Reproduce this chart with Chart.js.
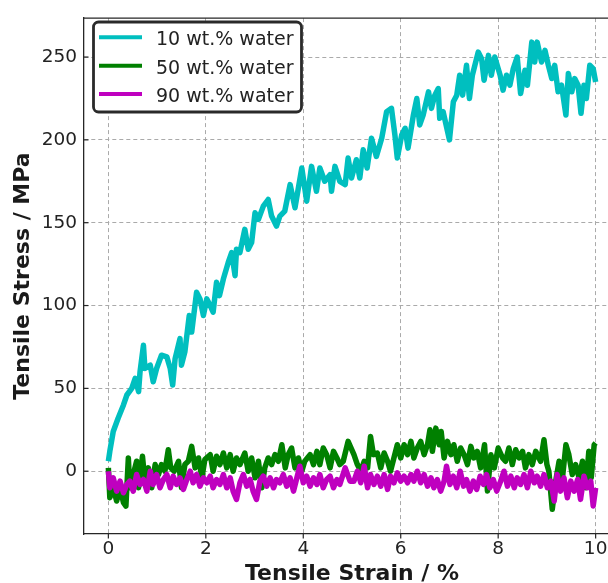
<!DOCTYPE html>
<html>
<head>
<meta charset="utf-8">
<script src="https://cdn.jsdelivr.net/npm/chart.js@4.4.0/dist/chart.umd.min.js"></script>
<style>
  html, body { margin: 0; padding: 0; background: #fff; overflow: hidden; }
  #wrap { width: 608px; height: 583px; overflow: hidden; position: relative; }
</style>
</head>
<body>
<div id="wrap"><canvas id="stressChart" width="624" height="590"></canvas></div>
<script>
// readings taken off the reference curves (strain %, stress MPa)
const strain10 = [0, 0.03, 0.1, 0.2, 0.31, 0.38, 0.48, 0.55, 0.62, 0.65, 0.72, 0.75, 0.86, 0.92, 0.99,
  1.09, 1.2, 1.27, 1.32, 1.37, 1.47, 1.5, 1.57, 1.66, 1.71, 1.81, 1.88, 1.95, 2.02, 2.09, 2.15, 2.22,
  2.28, 2.36, 2.46, 2.53, 2.6, 2.63, 2.7, 2.8, 2.87, 2.94, 3.01, 3.08, 3.18, 3.28, 3.35, 3.45, 3.52,
  3.62, 3.73, 3.83, 3.97, 4.07, 4.17, 4.27, 4.34, 4.44, 4.55, 4.58, 4.65, 4.75, 4.86, 4.92, 4.99, 5.09,
  5.16, 5.23, 5.31, 5.4, 5.5, 5.61, 5.71, 5.81, 5.88, 5.93, 6.02, 6.09, 6.15, 6.26, 6.33, 6.39, 6.46,
  6.57, 6.63, 6.7, 6.77, 6.8, 6.87, 7.0, 7.08, 7.15, 7.21, 7.27, 7.35, 7.41, 7.47, 7.59, 7.66, 7.71,
  7.8, 7.86, 7.93, 8.04, 8.1, 8.17, 8.24, 8.31, 8.39, 8.46, 8.55, 8.6, 8.69, 8.75, 8.8, 8.89, 8.96,
  9.03, 9.1, 9.16, 9.23, 9.3, 9.39, 9.44, 9.51, 9.57, 9.64, 9.7, 9.76, 9.81, 9.88, 9.95, 10.0];
const stress10 = [6, 12, 24, 32, 40, 46, 50, 56, 48, 60, 76, 62, 64, 54, 62,
  70, 69, 62, 52, 68, 80, 64, 72, 94, 84, 108, 104, 94, 104, 100, 96, 114,
  106, 116, 126, 132, 118, 134, 132, 146, 134, 138, 156, 152, 160, 164, 154, 148, 154,
  157, 173, 159, 183, 163, 184, 169, 183, 175, 179, 169, 184, 175, 173, 189, 177, 188,
  177, 194, 183, 201, 190, 201, 217, 219, 203, 189, 203, 207, 195, 215, 225, 209, 215,
  229, 219, 227, 231, 213, 217, 200, 223, 227, 239, 227, 245, 225, 239, 253, 249, 236,
  251, 239, 250, 239, 230, 239, 233, 243, 250, 228, 242, 233, 259, 247, 259, 247, 254,
  245, 237, 245, 229, 233, 215, 240, 229, 237, 233, 216, 233, 225, 245, 243, 235];

const strain50 = [0, 0.03, 0.1, 0.17, 0.24, 0.31, 0.36, 0.41, 0.44, 0.51, 0.58, 0.62, 0.7, 0.75, 0.82,
  0.89, 0.96, 1.03, 1.09, 1.16, 1.23, 1.28, 1.35, 1.44, 1.5, 1.57, 1.64, 1.71, 1.78, 1.85, 1.92, 1.98,
  2.09, 2.15, 2.22, 2.29, 2.36, 2.43, 2.5, 2.56, 2.63, 2.7, 2.8, 2.87, 2.94, 3.01, 3.08, 3.15, 3.21,
  3.28, 3.35, 3.42, 3.49, 3.56, 3.63, 3.69, 3.76, 3.83, 3.9, 3.97, 4.03, 4.14, 4.21, 4.28, 4.34, 4.41,
  4.48, 4.55, 4.62, 4.69, 4.75, 4.82, 4.92, 5.04, 5.11, 5.18, 5.25, 5.32, 5.38, 5.44, 5.52, 5.59, 5.66,
  5.73, 5.79, 5.86, 5.93, 6.0, 6.07, 6.14, 6.21, 6.27, 6.34, 6.41, 6.48, 6.55, 6.6, 6.65, 6.72, 6.79,
  6.83, 6.89, 6.96, 7.03, 7.09, 7.16, 7.23, 7.3, 7.37, 7.44, 7.5, 7.57, 7.64, 7.72, 7.78, 7.85, 7.92,
  8.0, 8.09, 8.15, 8.22, 8.29, 8.36, 8.43, 8.5, 8.56, 8.63, 8.7, 8.77, 8.87, 8.94, 9.0, 9.04, 9.11,
  9.18, 9.25, 9.32, 9.39, 9.45, 9.52, 9.59, 9.66, 9.73, 9.8, 9.86, 9.91, 9.97, 10.0];
const stress50 = [2, -16, -10, -18, -10, -19, -21, 8, -10, -2, 6, -10, 9, -6, 2,
  -10, 4, -2, 4, 0, 13, 2, 0, 6, -10, 4, 6, 15, 2, 8, -4, 7,
  10, 0, 9, 4, 11, 2, 10, 0, 8, 4, 11, 0, 8, -4, 6, -10, 2,
  8, 4, 10, 6, 16, 2, 10, 14, 2, 8, 0, 6, 10, 4, 12, 4, 14,
  10, 2, 12, 8, 4, 6, 18, 10, 4, 0, 6, 2, 21, 10, 11, 2, 11,
  6, 0, 8, 16, 8, 16, 10, 18, 8, 14, 18, 10, 16, 25, 12, 26, 16,
  24, 8, 18, 10, 16, 6, 14, 10, 4, 15, 8, 12, 2, 16, -12, 10, 2,
  14, 8, 6, 14, 4, 13, 8, 12, 2, 10, 4, 12, 6, 19, 4, 0, -23,
  -6, 6, -4, 16, 10, -2, 4, -4, 6, -10, 12, -4, 16, 17];

const strain90 = [0, 0.03, 0.1, 0.17, 0.24, 0.31, 0.38, 0.44, 0.51, 0.58, 0.65, 0.72, 0.79, 0.86, 0.92,
  0.99, 1.06, 1.13, 1.2, 1.27, 1.33, 1.4, 1.47, 1.54, 1.61, 1.68, 1.74, 1.81, 1.88, 1.95, 2.02, 2.09,
  2.15, 2.22, 2.29, 2.36, 2.43, 2.5, 2.56, 2.63, 2.7, 2.77, 2.84, 2.91, 2.97, 3.04, 3.11, 3.18, 3.25,
  3.32, 3.39, 3.45, 3.52, 3.59, 3.66, 3.73, 3.8, 3.86, 3.93, 4.0, 4.07, 4.14, 4.21, 4.28, 4.34, 4.41,
  4.48, 4.55, 4.62, 4.69, 4.75, 4.86, 4.96, 5.04, 5.11, 5.18, 5.25, 5.32, 5.38, 5.45, 5.52, 5.59, 5.66,
  5.73, 5.79, 5.86, 5.93, 6.0, 6.07, 6.14, 6.21, 6.27, 6.34, 6.41, 6.48, 6.55, 6.62, 6.68, 6.75, 6.82,
  6.89, 6.94, 7.01, 7.08, 7.15, 7.22, 7.29, 7.35, 7.42, 7.49, 7.56, 7.63, 7.7, 7.76, 7.83, 7.9, 7.97,
  8.05, 8.12, 8.19, 8.26, 8.33, 8.39, 8.46, 8.53, 8.6, 8.67, 8.74, 8.8, 8.87, 8.94, 9.01, 9.08, 9.15,
  9.21, 9.28, 9.35, 9.42, 9.49, 9.56, 9.63, 9.69, 9.76, 9.83, 9.9, 9.95, 10.0];
const stress90 = [0, -10, -4, -12, -6, -13, -8, -6, -12, -2, -8, -5, -12, 0, -8,
  -2, -10, -5, -2, -10, -3, -8, -4, -11, -5, 0, -7, -2, -9, -4, -7, -3,
  -10, -5, -8, -2, -10, -4, -12, -17, -7, -2, -9, -5, -12, -17, -6, -3, -9,
  -4, -10, -5, -7, -2, -9, -4, -12, -5, 3, -7, -3, -9, -4, -8, -2, -10,
  -5, -3, -10, -5, -8, 2, -6, -6, 0, -7, 3, -10, -2, -8, -3, -9, -2,
  -11, -3, -7, -1, -6, -3, -7, -2, -6, 0, -7, -2, -9, -4, -10, -5, -12,
  -6, 3, -8, -3, -10, 0, -9, -5, -12, -6, -11, -3, -8, -2, -10, -5, -12,
  -6, 0, -9, -3, -10, -4, -8, -2, -10, 0, -7, -3, -9, -2, -10, -6, -18,
  -2, -12, -4, -16, -6, -12, -5, -17, -3, -10, -6, -21, -10];

const seriesLabels = ['10 wt.% water', '50 wt.% water', '90 wt.% water'];
const seriesColors = ['#00bfbf', '#008000', '#bf00bf'];
const xTicks = [0, 2, 4, 6, 8, 10];
const yTicks = [0, 50, 100, 150, 200, 250];

function toPoints(xs, ys) {
  return xs.map((x, i) => ({ x: x, y: ys[i] }));
}

const textColor = '#222';
const spineColor = '#262626';

// top spine, tick marks and the boxed legend, drawn over the plot
const framePlugin = {
  id: 'frame',
  afterDraw(chart) {
    const ctx = chart.ctx;
    const area = chart.chartArea;
    const xs = chart.scales.x;
    const ys = chart.scales.y;
    ctx.save();
    ctx.strokeStyle = spineColor;
    ctx.lineWidth = 1.3;
    ctx.beginPath();
    ctx.moveTo(area.left, area.top);
    ctx.lineTo(area.right, area.top);
    ctx.stroke();

    ctx.lineWidth = 1.2;
    ys.ticks.forEach(t => {
      const y = ys.getPixelForValue(t.value);
      ctx.beginPath();
      ctx.moveTo(area.left, y);
      ctx.lineTo(area.left + 4.5, y);
      ctx.stroke();
    });
    xs.ticks.forEach(t => {
      const x = xs.getPixelForValue(t.value);
      ctx.beginPath();
      ctx.moveTo(x, area.bottom);
      ctx.lineTo(x, area.bottom + 4.5);
      ctx.stroke();
    });

    // legend box
    const bx = 93.5, by = 22, bw = 208, bh = 90;
    ctx.beginPath();
    ctx.roundRect(bx, by, bw, bh, 5);
    ctx.fillStyle = '#fff';
    ctx.fill();
    ctx.lineWidth = 2.8;
    ctx.strokeStyle = '#2a2a2a';
    ctx.stroke();

    ctx.font = '19px "DejaVu Sans"';
    ctx.textBaseline = 'alphabetic';
    ctx.textAlign = 'left';
    chart.data.datasets.forEach((ds, i) => {
      const y = 37.3 + 28.4 * i;
      ctx.beginPath();
      ctx.moveTo(99, y);
      ctx.lineTo(142, y);
      ctx.lineWidth = 4;
      ctx.strokeStyle = ds.borderColor;
      ctx.stroke();
      ctx.fillStyle = textColor;
      ctx.fillText(ds.label, 156, y + 8);
    });
    ctx.restore();
  }
};

const ctx = document.getElementById('stressChart').getContext('2d');
const stressChart = new Chart(ctx, {
  type: 'line',
  data: {
    datasets: [
      { label: seriesLabels[0], data: toPoints(strain10, stress10), borderColor: seriesColors[0], order: 3 },
      { label: seriesLabels[1], data: toPoints(strain50, stress50), borderColor: seriesColors[1], order: 2 },
      { label: seriesLabels[2], data: toPoints(strain90, stress90), borderColor: seriesColors[2], order: 1 }
    ]
  },
  options: {
    responsive: false,
    animation: false,
    devicePixelRatio: 1,
    layout: { padding: { top: 12, right: 4, bottom: 0, left: 0 } },
    elements: {
      line: { borderWidth: 5.5, tension: 0, borderJoinStyle: 'round', fill: false },
      point: { radius: 0, hoverRadius: 0 }
    },
    plugins: {
      legend: { display: false },
      tooltip: { enabled: false }
    },
    scales: {
      x: {
        type: 'linear',
        min: -0.5,
        max: 10.5,
        afterBuildTicks: (scale) => { scale.ticks = xTicks.map(v => ({ value: v })); },
        afterFit: (scale) => { scale.height = 56; },
        grid: { color: '#aaaaaa', lineWidth: 1, drawTicks: false },
        border: { display: true, color: spineColor, width: 1.3, dash: [4, 3] },
        ticks: {
          padding: 4,
          color: textColor,
          font: { family: 'DejaVu Sans', size: 18.5 },
          maxRotation: 0,
          callback: (v) => v
        },
        title: {
          display: true,
          text: 'Tensile Strain / %',
          color: '#1a1a1a',
          font: { family: 'DejaVu Sans', size: 22, weight: 'bold' },
          padding: { top: 0, bottom: 3 }
        }
      },
      y: {
        type: 'linear',
        min: -37.9,
        max: 273.5,
        afterBuildTicks: (scale) => { scale.ticks = yTicks.map(v => ({ value: v })); },
        afterFit: (scale) => { scale.width = 84; },
        grid: { color: '#aaaaaa', lineWidth: 1, drawTicks: false },
        border: { display: true, color: spineColor, width: 1.3, dash: [4, 3] },
        ticks: {
          padding: 7,
          color: textColor,
          font: { family: 'DejaVu Sans', size: 18.5 },
          callback: (v) => v
        },
        title: {
          display: true,
          text: 'Tensile Stress / MPa',
          color: '#1a1a1a',
          font: { family: 'DejaVu Sans', size: 22, weight: 'bold' },
          padding: { top: 10, bottom: 0 }
        }
      }
    }
  },
  plugins: [framePlugin]
});
</script>
</body>
</html>
